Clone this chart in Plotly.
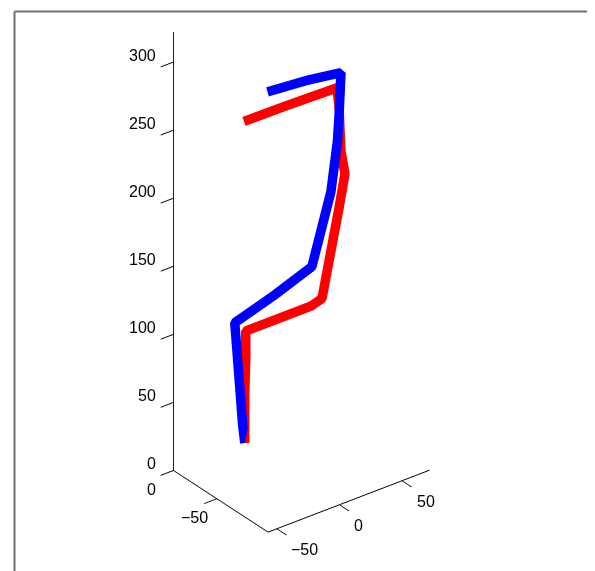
import plotly.graph_objects as go

# ---- data ----
blue_x = [0.0, -1.8, -4.5, -7.9, -11.5, 15.1, 39.7, 37.6, 33.8, 28.9, 19.7, 4.0, -20.6, -51.2]
blue_y = [0.0, 0.0, -1.0, -3.0, -5.0, -12.0, -20.0, -45.0, -55.0, -65.0, -80.0, -105.0, -102.0, -100.0]
blue_z = [0.0, 14.6, 40.3, 66.6, 94.5, 108.2, 123.9, 190.2, 218.0, 238.5, 265.1, 314.3, 316.2, 317.6]

red_x = [0.0, -1.4, -1.3, -2.0, 45.9, 53.3, 49.5, 47.4, 38.6, 23.2, 11.2, -24.8, -56.1]
red_y = [0.0, -2.0, -3.0, -4.0, -10.0, -12.0, -37.0, -47.0, -55.0, -75.0, -90.0, -85.0, -80.0]
red_z = [0.0, 39.6, 64.2, 84.7, 88.6, 92.3, 170.2, 200.7, 223.6, 270.5, 294.4, 292.2, 289.3]

x_range = [-57, 72]
y_range = [-109, 0]
z_range = [0, 322]

x_ticks = [-50, 0, 50]
y_ticks = [-50, 0]
z_ticks = [0, 50, 100, 150, 200, 250, 300]

W, H = 595, 571
FONT = dict(family="Liberation Sans, Arial, sans-serif", size=16, color="black")

def lab(v):
    return str(v).replace("-", "\u2212")

fig = go.Figure()
fig.add_trace(go.Scatter3d(
    x=red_x, y=red_y, z=red_z, mode="lines",
    line=dict(color="rgb(255,0,0)", width=19),
    hoverinfo="skip", showlegend=False))
fig.add_trace(go.Scatter3d(
    x=blue_x, y=blue_y, z=blue_z, mode="lines",
    line=dict(color="rgb(0,0,255)", width=19),
    hoverinfo="skip", showlegend=False))

def ax(rng, ticks):
    return dict(range=rng, tickvals=ticks, showticklabels=False,
                showgrid=False, zeroline=False, showbackground=False,
                showline=True, linecolor="black", linewidth=2,
                ticks="outside", ticklen=16, tickcolor="black", tickwidth=2,
                showspikes=False, title=dict(text=""))

# tick labels as horizontal scene annotations
ann = []
for t in z_ticks:
    ann.append(dict(x=x_range[0], y=y_range[1], z=t, text=lab(t), showarrow=False,
                    xanchor="right", yanchor="middle", xshift=-15, yshift=7, font=FONT))
for t in y_ticks:
    ann.append(dict(x=x_range[0], y=t, z=z_range[0], text=lab(t), showarrow=False,
                    xanchor="center", yanchor="middle", xshift=-22, yshift=-19, font=FONT))
for t in x_ticks:
    ann.append(dict(x=t, y=y_range[0], z=z_range[0], text=lab(t), showarrow=False,
                    xanchor="left", yanchor="middle", xshift=12.5, yshift=-20.5, font=FONT))

sx = (x_range[1]-x_range[0])*1.576
sy = (y_range[1]-y_range[0])*1.424
sz = (z_range[1]-z_range[0])*1.570
f = 1.773
r = 2.0
d = (-0.5272, -0.6871, 0.5)
c = (-0.0341, -0.0674, -0.1285)
fig.update_layout(
    width=W, height=H, margin=dict(l=0, r=0, t=0, b=0),
    paper_bgcolor="white",
    scene=dict(
        domain=dict(x=[0, 1], y=[0, 1]),
        xaxis=ax(x_range, x_ticks), yaxis=ax(y_range, y_ticks), zaxis=ax(z_range, z_ticks),
        aspectmode="manual",
        aspectratio=dict(x=f*sx/sz, y=f*sy/sz, z=f),
        camera=dict(projection=dict(type="orthographic"),
                    eye=dict(x=c[0]+d[0]*r, y=c[1]+d[1]*r, z=c[2]+d[2]*r),
                    up=dict(x=0, y=0, z=1), center=dict(x=c[0], y=c[1], z=c[2])),
        annotations=ann,
        bgcolor="white"),
    shapes=[
        dict(type="line", xref="paper", yref="paper", x0=6.5/W, x1=1, y0=1-3.5/H, y1=1-3.5/H,
             line=dict(color="#707070", width=2)),
        dict(type="line", xref="paper", yref="paper", x0=6.5/W, x1=6.5/W, y0=0, y1=1-3.5/H,
             line=dict(color="#707070", width=2)),
    ],
)
fig.write_html("out.html", config=dict(displayModeBar=False))
